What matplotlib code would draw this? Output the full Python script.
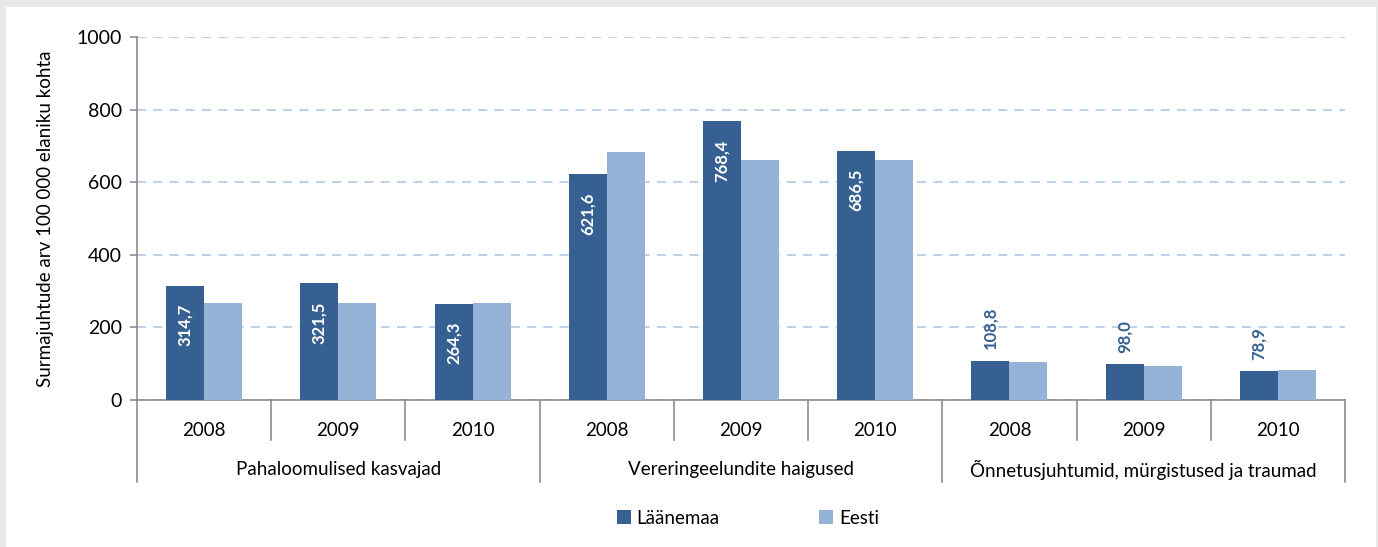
import matplotlib
matplotlib.use("Agg")
import matplotlib.pyplot as plt
from matplotlib.patches import Rectangle
from matplotlib.transforms import blended_transform_factory

plt.rcParams['font.family'] = ['Lato', 'DejaVu Sans']

groups = ["Pahaloomulised kasvajad", "Vereringeelundite haigused",
          "Õnnetusjuhtumid, mürgistused ja traumad"]
years = ["2008", "2009", "2010"]
laanemaa = [314.7, 321.5, 264.3, 621.6, 768.4, 686.5, 108.8, 98.0, 78.9]
eesti = [266, 266, 266, 684, 662, 662, 105, 94, 84]
series_names = ["Läänemaa", "Eesti"]

dark = "#366092"
light = "#95B3D7"
grid_c = "#B9CDE5"
axis_c = "#8C8C8C"

fig = plt.figure(figsize=(13.78, 5.47), dpi=100)
fig.patch.set_facecolor("#E8E8E8")
fig.add_artist(Rectangle((6/1378, 0), (1376-6)/1378, 1-7/547, transform=fig.transFigure,
                         facecolor="white", edgecolor="none", zorder=-10))

ax = fig.add_axes([137/1378, 1-400/547, (1345-137)/1378, 363/547])
ax.set_facecolor("white")

n = len(laanemaa)
xs = list(range(n))
w = 0.283
b1 = ax.bar([x - w/2 for x in xs], laanemaa, width=w, color=dark, edgecolor="none",
            label=series_names[0], zorder=3)
b2 = ax.bar([x + w/2 for x in xs], eesti, width=w, color=light, edgecolor="none",
            label=series_names[1], zorder=3)

for i, v in enumerate(laanemaa):
    txt = f"{v:.1f}".replace(".", ",")
    if v > 200:
        ax.annotate(txt, (i - w/2, v), xytext=(0, -13), textcoords="offset points",
                    rotation=90, ha="center", va="top", color="white",
                    fontsize=12, fontweight="bold", zorder=5)
    else:
        ax.annotate(txt, (i - w/2, v), xytext=(0, 8), textcoords="offset points",
                    rotation=90, ha="center", va="bottom", color=dark,
                    fontsize=12, fontweight="bold", zorder=5)

ax.set_xlim(-0.5, n - 0.5)
ax.set_ylim(0, 1000)
ax.set_yticks([0, 200, 400, 600, 800, 1000])
ax.tick_params(axis="y", labelsize=14, length=5, color=axis_c, width=1.2, pad=6)
ax.set_xticks([])
ax.yaxis.grid(True, linestyle=(0, (5, 4)), color=grid_c, linewidth=1.3, zorder=0)
for s in ["top", "right"]:
    ax.spines[s].set_visible(False)
ax.spines["left"].set_color(axis_c)
ax.spines["bottom"].set_color(axis_c)
ax.spines["left"].set_linewidth(1.2)
ax.spines["bottom"].set_linewidth(1.2)

ax.set_ylabel("Surmajuhtude arv 100 000 elaniku kohta", fontsize=13.5, labelpad=16)

trans = blended_transform_factory(ax.transData, ax.transAxes)
yr_sep = -40/363
grp_sep = -82/363
for k in range(n + 1):
    xb = k - 0.5
    bottom = grp_sep if k % 3 == 0 else yr_sep
    ax.plot([xb, xb], [0, bottom], transform=trans, color=axis_c, lw=1.2,
            clip_on=False, zorder=4)
for i in range(n):
    ax.text(i, -30/363, years[i % 3], transform=trans, ha="center", va="center",
            fontsize=13.5)
for g, name in enumerate(groups):
    ax.text(3*g + 1, -70/363, name, transform=trans, ha="center", va="center",
            fontsize=13.5)

leg = fig.legend(handles=[b1, b2], labels=series_names, loc="center",
                 bbox_to_anchor=(748/1378, 1-518/547), ncol=2, frameon=False,
                 fontsize=13.5, handlelength=0.75, handleheight=0.75,
                 handletextpad=0.3, columnspacing=5.3)

fig.savefig("out.png", dpi=100, facecolor=fig.get_facecolor())
